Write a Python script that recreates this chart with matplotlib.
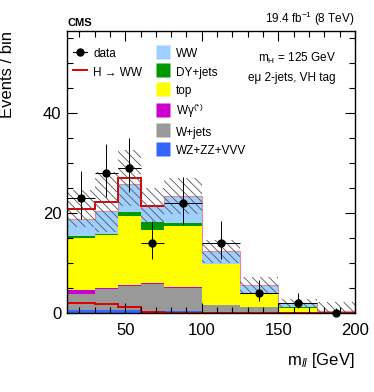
import numpy as np
import matplotlib
matplotlib.use('Agg')
import matplotlib.pyplot as plt
from matplotlib.lines import Line2D
from matplotlib.ticker import MultipleLocator

plt.rcParams['font.family'] = ['Liberation Sans', 'DejaVu Sans']
plt.rcParams['mathtext.fontset'] = 'custom'
plt.rcParams['mathtext.rm'] = 'Liberation Sans'
plt.rcParams['mathtext.it'] = 'Liberation Sans:italic'
plt.rcParams['hatch.linewidth'] = 0.6

# m_ll binning (GeV)
edges = [12, 30, 45, 60, 75, 100, 125, 150, 175, 200]

# backgrounds, bottom to top of the stack
wz_zz_vvv = [0.6, 0.6, 0.5, 0.3, 0.3, 0.05, 0.05, 0.02, 0.0]
wjets = [3.1, 4.2, 4.8, 5.4, 4.7, 1.45, 1.05, 0.08, 0.05]
wgamma = [0.9, 0.2, 0.2, 0.2, 0.2, 0.1, 0.05, 0.0, 0.0]
top = [10.4, 10.5, 13.8, 10.7, 12.1, 8.1, 2.55, 0.9, 0.05]
dyjets = [0.3, 0.2, 0.8, 1.5, 0.6, 0.1, 0.2, 0.1, 0.0]
ww = [3.5, 4.6, 5.6, 3.2, 5.4, 2.5, 1.6, 0.8, 0.2]

# signal H -> WW, mH = 125 GeV
signal = [2.0, 1.8, 1.2, 0.15, 0.05, 0.05, 0.03, 0.02, 0.0]

# total uncertainty (half width of hatched band)
syst = [3.7, 6.0, 5.6, 3.6, 3.6, 2.3, 1.6, 0.8, 1.8]

data = [23, 28, 29, 14, 22, 14, 4, 2, 0]

edges = np.array(edges, dtype=float)
centers = 0.5 * (edges[1:] + edges[:-1])
halfw = 0.5 * (edges[1:] - edges[:-1])

fig = plt.figure(figsize=(3.74, 3.92), dpi=100)
ax = fig.add_axes([67/374, 1 - 313/392, 288/374, 282/392])

stack = [
    (wz_zz_vvv, '#3366ff', 'WZ+ZZ+VVV'),
    (wjets, '#999999', 'W+jets'),
    (wgamma, '#cc00cc', 'W\u03b3$^{(*)}$'),
    (top, '#ffff00', 'top'),
    (dyjets, '#009900', 'DY+jets'),
    (ww, '#9fcfff', 'WW'),
]

base = np.zeros(len(centers))
for vals, col, lab in stack:
    vals = np.array(vals)
    ax.stairs(base + vals, edges, baseline=base, fill=True, color=col, lw=0)
    base = base + vals

# thin outline of the background stack
ax.stairs(base, edges, baseline=None, color='#e08aa0', lw=0.8)

sig = np.array(signal)
total = base + sig

# signal stacked on top of the backgrounds (only where it is visible)
k = int((sig >= 0.1).sum())
ax.stairs(total[:k], edges[:k + 1], baseline=None, color='#dd0000', lw=1.4)

# uncertainty band
syst = np.array(syst)
low = np.clip(total - syst, 0, None)
ax.bar(centers, total + syst - low, width=2 * halfw, bottom=low, fill=False,
       hatch='\\\\\\\\', edgecolor='#555555', lw=0)

# signal alone
ax.stairs(sig, edges, baseline=None, color='#dd0000', lw=1.4)

# data with poisson errors
n = np.array(data, dtype=float)
err_lo = np.where(n > 0, np.sqrt(n + 0.25) - 0.5, 0)
err_hi = np.sqrt(n + 0.25) + 0.5
ax.errorbar(centers, n, yerr=[err_lo, err_hi], xerr=halfw, fmt='o', color='black',
            ms=5, elinewidth=0.7, capsize=0, zorder=5, clip_on=False)

ax.set_xlim(12, 200)
ax.set_ylim(0, 56.3)
ax.xaxis.set_major_locator(MultipleLocator(50))
ax.xaxis.set_minor_locator(MultipleLocator(10))
ax.yaxis.set_major_locator(MultipleLocator(20))
ax.yaxis.set_minor_locator(MultipleLocator(5))
ax.tick_params(which='both', direction='in', top=True, right=True, labelsize=12)
ax.tick_params(which='major', length=7, width=0.8)
ax.tick_params(which='minor', length=4, width=0.8)
ax.tick_params(axis='x', pad=7)
ax.tick_params(axis='y', pad=4)
for s in ax.spines.values():
    s.set_linewidth(1.0)

ax.set_ylabel('Events / bin', fontsize=12, loc='top')
ax.yaxis.set_label_coords((15 - 67) / 288, 1.0)
ax.set_xlabel('m$_{\\mathit{ll}}$ [GeV]', fontsize=12, loc='right')
ax.xaxis.set_label_coords(1.0, (313 - 351) / 282)

# ---- legends ----
leg_kw = dict(loc='upper left', frameon=False, fontsize=8.5, handlelength=1.2,
              handleheight=1.5, handletextpad=0.5, labelspacing=0.36,
              borderpad=0, borderaxespad=0, numpoints=1)

leg1_handles = [
    Line2D([0], [0], color='black', marker='o', ms=5, lw=0.8, label='data'),
    Line2D([0], [0], color='#dd0000', lw=1.4, label='H \u2192 WW'),
]
fig.legend(handles=leg1_handles, bbox_to_anchor=(73/374, 1 - 46/392), **leg_kw)

leg2_handles = [Line2D([0], [0], ls='none', marker='s', ms=9.5, mfc=col, mec='none', label=lab)
                for vals, col, lab in stack[::-1]]
fig.legend(handles=leg2_handles, bbox_to_anchor=(156/374, 1 - 46/392), **leg_kw)

ax.text((336 - 67) / 288, (313 - 58) / 282, 'm$_{\\mathrm{H}}$ = 125 GeV', fontsize=8.5,
        ha='right', va='center', transform=ax.transAxes)
ax.text((336 - 67) / 288, (313 - 78) / 282, 'e\u03bc 2-jets, VH tag', fontsize=8.5,
        ha='right', va='center', transform=ax.transAxes)

ax.text(0, 1.012, 'CMS', fontsize=8, fontweight='bold', ha='left', va='bottom',
        transform=ax.transAxes)
ax.text(1, 1.012, '19.4 fb$^{-1}$ (8 TeV)', fontsize=8.5, ha='right', va='bottom',
        transform=ax.transAxes)

fig.savefig('out.png', dpi=100)
